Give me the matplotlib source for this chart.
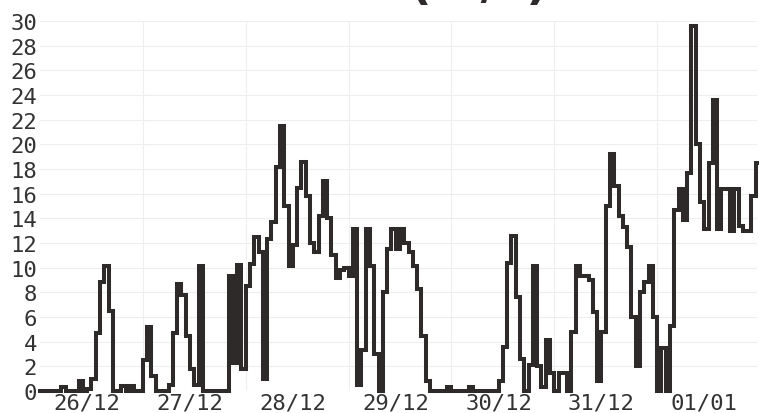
import numpy as np
import matplotlib
matplotlib.use('Agg')
import matplotlib.pyplot as plt

## data: hourly values, one list per day ##
d26 = [0, 0, 0, 0, 0, 0.3, 0, 0, 0, 0.8, 0, 0.2,
       1.0, 4.7, 8.8, 10.1, 6.5, 0, 0, 0.4, 0, 0.4, 0, 0]
d27 = [2.5, 5.2, 1.2, 0, 0, 0, 0.5, 4.7, 8.7, 7.8, 4.5, 1.8,
       0.5, 10.1, 0, 0, 0, 0, 0, 0, 9.3, 2.3, 10.2, 1.8]
d28 = [8.5, 10.3, 12.5, 11.3, 1.0, 12.3, 13.7, 18.2, 21.5, 15, 10.1, 11.8,
       16.5, 18.6, 15.8, 12, 11.3, 14.2, 17, 14, 11, 9.2, 9.8, 10]
d29 = [9.3, 13.1, 0.5, 3.3, 13.1, 10.1, 3.0, 0, 8, 11.5, 13.1, 11.5,
       13.1, 12, 11.3, 10.1, 8.3, 4.5, 0.8, 0, 0, 0, 0, 0.3]
d30 = [0, 0, 0, 0, 0.3, 0, 0, 0, 0, 0, 0, 0.8,
       3.6, 10.4, 12.6, 7.6, 2.6, 0, 2.1, 10.1, 2, 0.3, 4.1, 1.5]
d31 = [0, 1.5, 1.5, 0, 4.8, 10.1, 9.3, 9.3, 9.0, 6.4, 0.8, 4.8,
       15, 19.2, 16.6, 14.2, 13.3, 11.7, 6.0, 2.0, 8, 8.8, 10.1, 6]
d01 = [0, 3.5, 0, 5.3, 14.7, 16.4, 13.9, 17.7, 29.6, 20, 15.3, 13.1,
       18.5, 23.6, 13.1, 16.4, 16.4, 13, 16.4, 13.4, 13.0, 13.0, 15.8, 18.5]

day_labels = ['26/12', '27/12', '28/12', '29/12', '30/12', '31/12', '01/01']
y_ticks = list(range(0, 31, 2))

speed = np.array(d26 + d27 + d28 + d29 + d30 + d31 + d01)
hours = np.arange(len(speed) + 1)
vals = np.append(speed, speed[-1])

fig = plt.figure(figsize=(7.59, 4.14), dpi=100)
ax = fig.add_axes([0.0527, 0.0531, 0.9447, 0.8937])

# faint grid
for v in y_ticks[1:]:
    ax.axhline(v, color='#eeeeee', lw=0.8, zorder=0)
for d in range(1, 7):
    ax.axvline(24 * d, color='#eeeeee', lw=0.8, zorder=0)

ax.plot(hours, vals, drawstyle='steps-post', color='#2e2a2a', lw=2.9,
        solid_joinstyle='miter', clip_on=False)

ax.set_xlim(0, 167.3)
ax.set_ylim(0, 30)
ax.set_yticks(y_ticks)
ax.set_yticklabels([str(v) for v in y_ticks])
ax.set_xticks([11 + 24 * d for d in range(7)])
ax.set_xticklabels(day_labels)
for s in ax.spines.values():
    s.set_visible(False)
ax.tick_params(length=0, labelsize=16, labelcolor='#333333')
ax.tick_params(axis='y', pad=2)
ax.tick_params(axis='x', pad=1)
for lab in ax.get_xticklabels() + ax.get_yticklabels():
    lab.set_family('DejaVu Sans Mono')

# title, mostly cut off by the top edge in the original
fig.text(0.631, 1.003, '(m/s)', ha='center', va='baseline',
         fontsize=34, fontweight='bold', color='#2e2a2a')

fig.savefig('out.png', dpi=100)
